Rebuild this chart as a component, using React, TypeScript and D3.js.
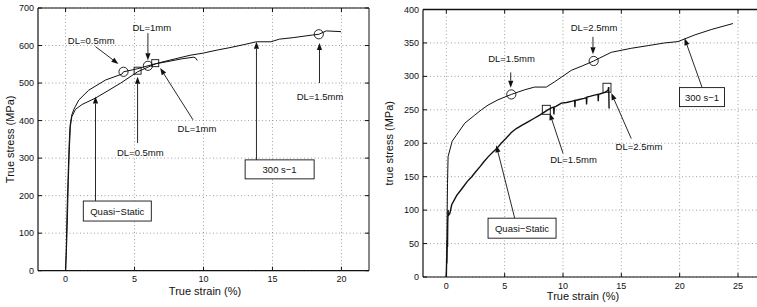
import React from "react";
import * as d3 from "d3";

// ---------- data: left panel ----------
const leftXTicks = [0, 5, 10, 15, 20];
const leftYTicks = [0, 100, 200, 300, 400, 500, 600, 700];
const leftDynStrain = [0, 0.05, 0.1, 0.18, 0.25, 0.32, 0.45, 0.6, 0.96, 1.68, 2.89, 4.09, 4.2, 5.2, 5.97, 7, 8, 9.02, 10, 11, 12, 13, 13.84, 14.9, 15.5, 16.5, 17.9, 18.36, 18.9, 19.97];
const leftDynStress = [0, 60, 150, 250, 330, 385, 415, 430, 455, 481, 508, 524, 530, 538, 546, 556, 565, 574, 580, 588, 595, 603, 610, 610, 617, 621, 628, 630, 639, 637];
const leftQsStrain = [0, 0.05, 0.12, 0.2, 0.28, 0.35, 0.45, 0.72, 1.2, 2.17, 3, 4, 5.22, 6.5, 7.5, 8.5, 9.3, 9.45, 9.55];
const leftQsStress = [0, 40, 120, 240, 330, 385, 410, 430, 443, 460, 478, 500, 530, 551, 558, 565, 569, 566, 560];
const leftCircles = [[4.2, 530], [5.97, 546], [18.36, 630]];
const leftSquares = [[5.22, 533], [6.5, 553]];

// ---------- data: right panel ----------
const rightXTicks = [0, 5, 10, 15, 20, 25];
const rightYTicks = [0, 50, 100, 150, 200, 250, 300, 350, 400];
const rightDynStrain = [0, 0.05, 0.1, 0.15, 0.5, 0.86, 1.58, 2.43, 3.0, 3.57, 4.43, 5.57, 6.72, 7.57, 8.57, 9.29, 10.71, 11.7, 12.63, 14.14, 15.85, 17.3, 18.7, 19.85, 21.3, 22.7, 24.57];
const rightDynStress = [0, 60, 140, 180, 203, 212, 230, 242, 250, 257, 265, 273, 280, 284, 284, 292, 309, 316, 323, 336, 342, 346, 350, 352, 362, 370, 379];
const rightQsStrain = [0, 0.03, 0.05, 0.08, 0.1, 0.12, 0.15, 0.18, 0.3, 0.46, 0.89, 1.2, 1.46, 1.8, 2.18, 2.5, 2.89, 3.2, 3.6, 4.0, 4.32, 4.7, 5.1, 5.57, 6.0, 6.5, 7.0, 7.5, 8.0, 8.43, 8.7, 9.0, 9.2, 9.22, 9.25, 9.4, 9.86, 10.3, 10.8, 11.0, 11.02, 11.05, 11.3, 11.8, 12.0, 12.02, 12.05, 12.3, 12.7, 13.0, 13.02, 13.05, 13.2, 13.6, 13.86, 13.9, 13.92, 13.95];
const rightQsStress = [0, 30, 20, 55, 45, 80, 100, 92, 95, 108, 122, 129, 135, 143, 150, 157, 165, 172, 180, 187, 192, 200, 207, 216, 222, 227, 232, 237, 242, 247, 250, 253, 254, 243, 254, 255, 260, 261, 263, 264, 254, 264, 265, 267, 268, 258, 269, 270, 272, 273, 263, 273, 274, 276, 279, 283, 283, 252];
const rightCircles = [[5.57, 273], [12.63, 323]];
const rightSquares = [[8.57, 250], [13.77, 283]];

type Ann = { text: string; tx: number; ty: number; ax: number; ay: number; bx: number; by: number; box?: [number, number] };

const leftAnns: Ann[] = [
  { text: "DL=0.5mm", tx: 1.86, ty: 613, ax: 2.17, ay: 597, bx: 3.83, by: 551 },
  { text: "DL=1mm", tx: 6.25, ty: 649, ax: 5.97, ay: 633, bx: 5.97, by: 561 },
  { text: "DL=1.5mm", tx: 18.45, ty: 465, ax: 18.41, ay: 500, bx: 18.41, by: 607 },
  { text: "DL=1mm", tx: 9.53, ty: 380, ax: 9.24, ay: 402, bx: 6.86, by: 540 },
  { text: "DL=0.5mm", tx: 5.42, ty: 316, ax: 5.22, ay: 340, bx: 5.22, by: 517 },
  { text: "Quasi\u2212Static", tx: 3.75, ty: 159, ax: 2.17, ay: 186, bx: 2.17, by: 464, box: [68, 20] },
  { text: "300 s\u22121", tx: 15.52, ty: 270, ax: 13.84, ay: 295, bx: 13.84, by: 610, box: [69, 19] },
];
const rightAnns: Ann[] = [
  { text: "DL=1.5mm", tx: 5.59, ty: 326, ax: 5.52, ay: 306, bx: 5.52, by: 283 },
  { text: "DL=2.5mm", tx: 12.66, ty: 373, ax: 12.57, ay: 359, bx: 12.57, by: 333 },
  { text: "300 s\u22121", tx: 21.91, ty: 269, ax: 21.91, ay: 284, bx: 20.42, by: 357, box: [45, 19] },
  { text: "DL=1.5mm", tx: 10.9, ty: 176, ax: 10.0, ay: 185, bx: 8.86, by: 245 },
  { text: "DL=2.5mm", tx: 16.51, ty: 195, ax: 15.85, ay: 207, bx: 14.14, by: 275 },
  { text: "Quasi\u2212Static", tx: 6.49, ty: 73, ax: 5.86, ay: 88, bx: 4.28, by: 197, box: [68, 20] },
];

const FONT = "'Liberation Sans', Arial, Helvetica, sans-serif";

function Arrow({ x1, y1, x2, y2 }: { x1: number; y1: number; x2: number; y2: number }) {
  const ang = Math.atan2(y2 - y1, x2 - x1);
  const L = 7, W = 2.6;
  const bx = x2 - L * Math.cos(ang), by = y2 - L * Math.sin(ang);
  const px = -Math.sin(ang) * W, py = Math.cos(ang) * W;
  return (
    <g>
      <line x1={x1} y1={y1} x2={bx} y2={by} stroke="#111" strokeWidth={0.9} />
      <path d={`M${x2},${y2}L${bx + px},${by + py}L${bx - px},${by - py}Z`} fill="#111" />
    </g>
  );
}

type PanelProps = {
  x0: number; x1: number; yTop: number; yBot: number;
  xDomain: [number, number]; yDomain: [number, number];
  xTicks: number[]; yTicks: number[];
  series: { xs: number[]; ys: number[]; w: number }[];
  circles: number[][]; squares: number[][]; sq: [number, number];
  anns: Ann[]; ylabel: string; ylabelX: number; xlabelX: number; xlabelY: number; tickY: number;
  rightBorder: boolean; topW: number;
};

function Panel(p: PanelProps) {
  const x = d3.scaleLinear().domain(p.xDomain).range([p.x0, p.x1]);
  const y = d3.scaleLinear().domain(p.yDomain).range([p.yBot, p.yTop]);
  const tl = 4;
  return (
    <g fontFamily={FONT}>
      {p.xTicks.map((t) => (
        <line key={"gx" + t} x1={x(t)} x2={x(t)} y1={p.yTop} y2={p.yBot} stroke="#888" strokeWidth={0.8} strokeDasharray="1,2.5" />
      ))}
      {p.yTicks.map((t) => (
        <line key={"gy" + t} x1={p.x0} x2={p.x1} y1={y(t)} y2={y(t)} stroke="#888" strokeWidth={0.8} strokeDasharray="1,2.5" />
      ))}
      {p.series.map((s, i) => {
        const pts = s.xs.map((v, j) => [v, s.ys[j]] as [number, number]);
        const gen = d3.line<[number, number]>().x((d) => x(d[0])).y((d) => y(d[1]));
        return <path key={"s" + i} d={gen(pts) || ""} fill="none" stroke="#111" strokeWidth={s.w} />;
      })}
      {p.circles.map((c, i) => (
        <circle key={"c" + i} cx={x(c[0])} cy={y(c[1])} r={4.6} fill="none" stroke="#111" strokeWidth={0.9} />
      ))}
      {p.squares.map((c, i) => (
        <rect key={"q" + i} x={x(c[0]) - p.sq[0] / 2} y={y(c[1]) - p.sq[1] / 2} width={p.sq[0]} height={p.sq[1]} fill="none" stroke="#111" strokeWidth={0.9} />
      ))}
      {p.anns.map((a, i) => (
        <g key={"a" + i}>
          <Arrow x1={x(a.ax)} y1={y(a.ay)} x2={x(a.bx)} y2={y(a.by)} />
          {a.box && (
            <rect x={x(a.tx) - a.box[0] / 2} y={y(a.ty) - a.box[1] / 2} width={a.box[0]} height={a.box[1]} fill="#fff" stroke="#111" strokeWidth={0.9} />
          )}
          <text x={x(a.tx)} y={y(a.ty)} textAnchor="middle" dominantBaseline="central" fontSize={9.5} fill="#111">{a.text}</text>
        </g>
      ))}
      <line x1={p.x0} x2={p.x1} y1={p.yTop} y2={p.yTop} stroke="#111" strokeWidth={p.topW} />
      <line x1={p.x0} x2={p.x1} y1={p.yBot} y2={p.yBot} stroke="#111" strokeWidth={1.2} />
      <line x1={p.x0} x2={p.x0} y1={p.yTop} y2={p.yBot} stroke="#111" strokeWidth={1.2} />
      {p.rightBorder && <line x1={p.x1} x2={p.x1} y1={p.yTop} y2={p.yBot} stroke="#111" strokeWidth={1} />}
      {p.xTicks.map((t) => (
        <g key={"tx" + t}>
          <line x1={x(t)} x2={x(t)} y1={p.yBot} y2={p.yBot - tl} stroke="#111" />
          <line x1={x(t)} x2={x(t)} y1={p.yTop} y2={p.yTop + tl} stroke="#111" />
          <text x={x(t)} y={p.tickY} textAnchor="middle" fontSize={9} fill="#111">{t}</text>
        </g>
      ))}
      {p.yTicks.map((t) => (
        <g key={"ty" + t}>
          <line x1={p.x0} x2={p.x0 + tl} y1={y(t)} y2={y(t)} stroke="#111" />
          {p.rightBorder && <line x1={p.x1} x2={p.x1 - tl} y1={y(t)} y2={y(t)} stroke="#111" />}
          <text x={p.x0 - 4} y={y(t)} textAnchor="end" dominantBaseline="central" fontSize={9} fill="#111">{t}</text>
        </g>
      ))}
      <text x={p.xlabelX} y={p.xlabelY} textAnchor="middle" fontSize={11} fill="#111">True strain (%)</text>
      <text transform={`translate(${p.ylabelX},${(p.yTop + p.yBot) / 2}) rotate(-90)`} textAnchor="middle" dominantBaseline="central" fontSize={11} fill="#111">{p.ylabel}</text>
    </g>
  );
}

export default function App() {
  return (
    <svg width={757} height={307} style={{ position: "absolute", left: 0, top: 0, background: "#fff" }}>
      <rect width={757} height={307} fill="#fff" />
      <Panel
        x0={38} x1={369} yTop={8} yBot={270.7}
        xDomain={[-2, 22]} yDomain={[0, 700]}
        xTicks={leftXTicks} yTicks={leftYTicks}
        series={[{ xs: leftDynStrain, ys: leftDynStress, w: 1 }, { xs: leftQsStrain, ys: leftQsStress, w: 1 }]}
        circles={leftCircles} squares={leftSquares} sq={[7, 7]}
        anns={leftAnns} ylabel="True stress (MPa)" ylabelX={10} xlabelX={205} xlabelY={295} tickY={282}
        rightBorder={true} topW={1}
      />
      <Panel
        x0={423} x1={773} yTop={9.5} yBot={277}
        xDomain={[-2, 28]} yDomain={[0, 400]}
        xTicks={rightXTicks} yTicks={rightYTicks}
        series={[{ xs: rightDynStrain, ys: rightDynStress, w: 1 }, { xs: rightQsStrain, ys: rightQsStress, w: 1.4 }]}
        circles={rightCircles} squares={rightSquares} sq={[8, 9]}
        anns={rightAnns} ylabel="true stress (MPa)" ylabelX={389} xlabelX={583} xlabelY={300} tickY={289}
        rightBorder={false} topW={1.6}
      />
    </svg>
  );
}
